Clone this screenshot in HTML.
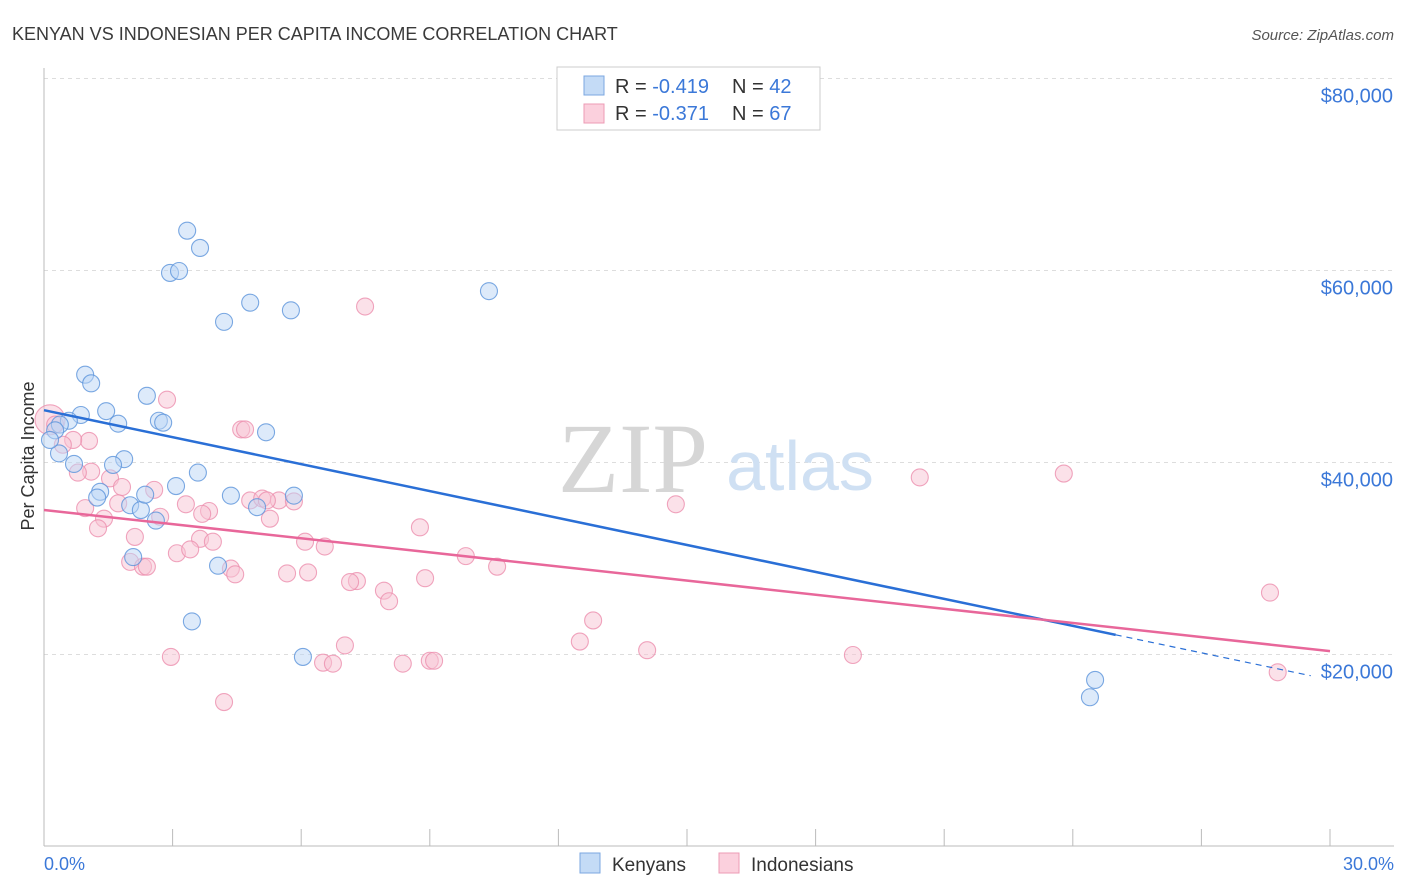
<!DOCTYPE html>
<html><head><meta charset="utf-8"><style>
body{margin:0;background:#fff;font-family:"Liberation Sans",sans-serif}
</style></head><body>
<svg id="chart" width="1406" height="892" style="display:block">
<text x="12" y="40" font-size="18" fill="#3a3a3a">KENYAN VS INDONESIAN PER CAPITA INCOME CORRELATION CHART</text>
<text x="1394" y="40" font-size="15" fill="#555" text-anchor="end" font-style="italic">Source: ZipAtlas.com</text>
<g id="grid"></g>
<text x="633" y="492" font-size="100" fill="#d6d6d6" font-family="Liberation Serif" text-anchor="middle">ZIP</text>
<text x="800" y="490" font-size="70" fill="#cfe0f3" text-anchor="middle">atlas</text>
<line x1="44" y1="68" x2="44" y2="846" stroke="#bbb"/>
<line x1="44" y1="846" x2="1394" y2="846" stroke="#bbb"/>
<g id="xticks"></g>
<text x="34" y="456" font-size="18" fill="#333" text-anchor="middle" transform="rotate(-90 34 456)">Per Capita Income</text>
<text x="44" y="870" font-size="18" fill="#3b78d8">0.0%</text>
<text x="1394" y="870" font-size="18" fill="#3b78d8" text-anchor="end">30.0%</text>
<g id="points"></g>
<g id="trends"></g>
<g>
<rect x="557" y="67" width="263" height="63" fill="#fff" stroke="#ccc"/>
<rect x="584" y="76" width="20" height="19" fill="#c4dbf6" stroke="#7ba7e0"/>
<rect x="584" y="104" width="20" height="19" fill="#fbd0dd" stroke="#ec9bb5"/>
<text x="615" y="93" font-size="20" fill="#333">R = <tspan fill="#3b78d8">-0.419</tspan><tspan x="732">N = </tspan><tspan fill="#3b78d8">42</tspan></text>
<text x="615" y="120" font-size="20" fill="#333">R = <tspan fill="#3b78d8">-0.371</tspan><tspan x="732">N = </tspan><tspan fill="#3b78d8">67</tspan></text>
</g>
<g>
<rect x="580" y="853" width="20" height="20" fill="#c4dbf6" stroke="#7ba7e0"/>
<text x="612" y="871" font-size="19" fill="#333">Kenyans</text>
<rect x="719" y="853" width="20" height="20" fill="#fbd0dd" stroke="#ec9bb5"/>
<text x="751" y="871" font-size="19" fill="#333">Indonesians</text>
</g>
</svg>
<script>
const yTicks=[20000,40000,60000,80000];
const yTickLabels=["$20,000","$40,000","$60,000","$80,000"];
const kenyanX=[3.34,3.64,2.94,3.15,4.81,4.20,5.76,10.38,0.96,1.10,2.40,1.45,0.86,0.58,0.37,1.73,2.68,2.78,5.18,0.26,0.35,1.87,1.61,0.70,3.59,3.08,4.36,5.83,4.97,1.31,1.24,2.01,2.26,2.36,2.61,2.08,4.06,3.45,6.04,24.52,24.40,0.14];
const kenyanY=[64.2,62.4,59.8,60.0,56.7,54.7,55.9,57.9,49.2,48.3,47.0,45.4,45.0,44.4,44.0,44.1,44.4,44.2,43.2,43.4,41.0,40.4,39.8,39.9,39.0,37.6,36.6,36.6,35.4,37.0,36.4,35.6,35.1,36.7,34.0,30.2,29.3,23.5,19.8,17.4,15.6,42.4];
const indoX=[7.49,2.87,4.60,4.69,20.43,23.79,1.05,0.68,0.44,0.14,1.10,0.79,1.54,1.82,2.57,3.31,3.85,3.69,4.81,5.09,5.48,5.83,5.20,0.96,1.40,1.73,2.71,5.27,14.74,8.77,1.26,2.12,3.64,3.94,6.09,6.55,3.10,3.41,9.84,10.57,2.01,2.31,2.40,4.36,4.46,5.67,6.16,7.30,7.14,8.89,7.93,8.05,28.60,12.81,12.50,14.07,7.02,2.96,18.87,6.51,6.74,8.37,9.00,9.10,28.78,4.20,0.26];
const indoY=[56.3,46.6,43.5,43.5,38.5,38.9,42.3,42.4,41.9,44.5,39.1,39.0,38.4,37.5,37.2,35.7,35.0,34.7,36.1,36.3,36.1,36.0,36.1,35.3,34.2,35.8,34.4,34.2,35.7,33.3,33.2,32.3,32.1,31.8,31.8,31.3,30.6,31.0,30.3,29.2,29.7,29.2,29.2,29.0,28.4,28.5,28.6,27.7,27.6,28.0,26.7,25.6,26.5,23.6,21.4,20.5,21.0,19.8,20.0,19.2,19.1,19.1,19.4,19.4,18.2,15.1,44.0];
const kenyanTrend=[45.5,22.1];   // $k at x=0 and x=25%
const indoTrend=[35.1,20.4];     // $k at x=0 and x=30%
const NS="http://www.w3.org/2000/svg";
const xs=p=>44+p*1286/30;
const ys=k=>847-k*9.6;
function mk(t,a,parent){const e=document.createElementNS(NS,t);for(const k in a)e.setAttribute(k,a[k]);parent.appendChild(e);return e;}
const grid=document.getElementById('grid');
yTicks.forEach((v,i)=>{
 const y=ys(v/1000)-0.5;
 const l=mk('line',{x1:44,x2:1394,y1:y,y2:y,stroke:'#ddd','stroke-dasharray':'4,4'},grid);
 
 
 const t=mk('text',{x:1393,y:y+24,'font-size':20,fill:'#3b78d8','text-anchor':'end'},grid);
 t.textContent=yTickLabels[i];
 
 
});
const xt=document.getElementById('xticks');
for(let i=1;i<=10;i++){const x=44+i*128.6;
 const l=mk('line',{x1:x,x2:x,y1:829,y2:846,stroke:'#bbb'},xt);
 
 }
const pts=document.getElementById('points');
function dots(X,Y,fill,stroke,name){X.forEach((x,i)=>{
 const big=(x<0.2&&name==='indonesian-point');
 const c=mk('circle',{cx:xs(x),cy:ys(Y[i]),r:big?15:8.5,fill:fill,'fill-opacity':0.5,stroke:stroke,'stroke-opacity':0.8,'stroke-width':1.1},pts);
 
 });}
dots(indoX,indoY,'#f8c3d3','#ec8fae','indonesian-point');
dots(kenyanX,kenyanY,'#bcd6f5','#5b93db','kenyan-point');
const tr=document.getElementById('trends');
const kSlope=(kenyanTrend[1]-kenyanTrend[0])/25;
let l=mk('line',{x1:xs(0),y1:ys(kenyanTrend[0]),x2:xs(25),y2:ys(kenyanTrend[1]),stroke:'#2a6fd6','stroke-width':2.5},tr);


l=mk('line',{x1:xs(25),y1:ys(kenyanTrend[1]),x2:xs(29.55),y2:ys(kenyanTrend[0]+kSlope*29.55),stroke:'#2a6fd6','stroke-width':1.2,'stroke-dasharray':'6,5'},tr);


l=mk('line',{x1:xs(0),y1:ys(indoTrend[0]),x2:xs(30),y2:ys(indoTrend[1]),stroke:'#e8679a','stroke-width':2.5},tr);


</script>
</body></html>
